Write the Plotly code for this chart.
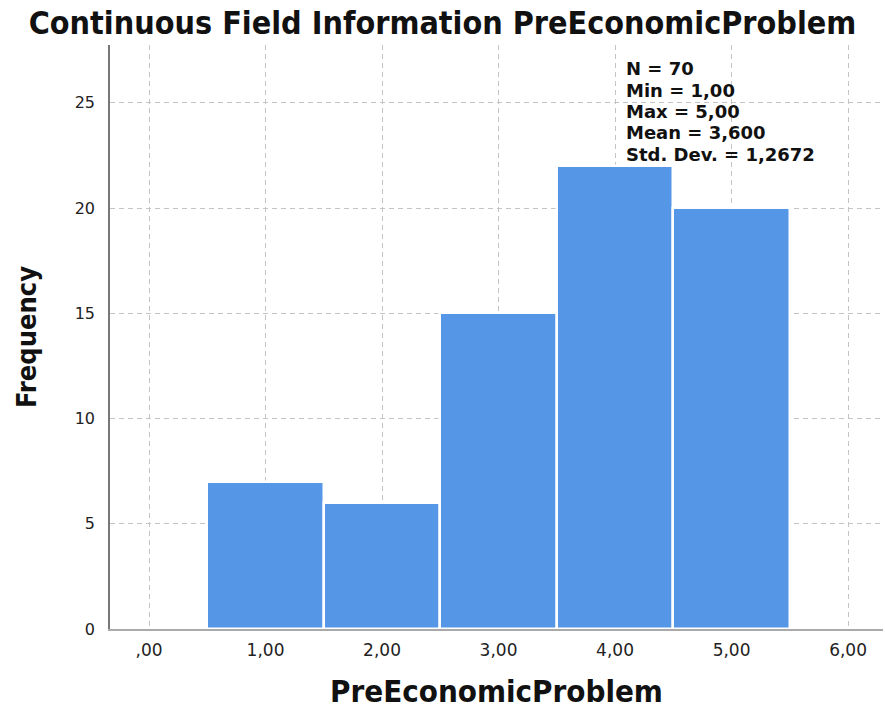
import plotly.graph_objects as go

categories = [1, 2, 3, 4, 5]
frequencies = [7, 6, 15, 22, 20]
x_tick_vals = [0, 1, 2, 3, 4, 5, 6]
x_tick_text = [",00", "1,00", "2,00", "3,00", "4,00", "5,00", "6,00"]
y_tick_vals = [0, 5, 10, 15, 20, 25]
stats_lines = ["N = 70", "Min = 1,00", "Max = 5,00", "Mean = 3,600", "Std. Dev. = 1,2672"]

L, R, T, B = 110, 883, 45, 629

fig = go.Figure()
fig.add_trace(go.Bar(
    x=categories, y=frequencies, width=1.0,
    marker=dict(color="#5596E6", line=dict(color="white", width=2.5)),
    showlegend=False,
))

grid = dict(showgrid=True, gridcolor="#c4c4c4", griddash="5px,4px", gridwidth=1, automargin=False)
narrow = "Liberation Sans Narrow, Arial Narrow, DejaVu Sans Condensed"
fig.update_xaxes(
    range=[-0.335, 6.3], tickvals=x_tick_vals, ticktext=x_tick_text,
    showline=True, linecolor="#aaaaaa", linewidth=1.5, zeroline=False,
    ticks="", ticklabelstandoff=5,
    tickfont=dict(family="DejaVu Sans", size=17, color="#222222"),
    title=dict(text="<b>PreEconomicProblem</b>", standoff=21,
               font=dict(family=narrow, size=31, color="#111111")),
    **grid,
)
fig.update_yaxes(
    range=[0, 27.75], tickvals=y_tick_vals,
    showline=True, linecolor="#777777", linewidth=1.5, zeroline=False,
    ticks="", ticklabelstandoff=10,
    tickfont=dict(family="DejaVu Sans", size=16, color="#222222"),
    title=dict(text="<b>Frequency</b>", standoff=30,
               font=dict(family=narrow, size=27, color="#111111")),
    **grid,
)

line_px = [69, 90, 112, 133, 154]
for txt, py in zip(stats_lines, line_px):
    fig.add_annotation(
        x=(624 - L) / (R - L), y=1 - (py - T) / (B - T), xref="paper", yref="paper",
        text="<b>%s</b>" % txt,
        showarrow=False, align="left", xanchor="left", yanchor="middle",
        font=dict(family="DejaVu Sans", size=18, color="#111111"),
    )

fig.update_layout(
    width=885, height=711,
    margin=dict(l=L, r=885 - R, t=T, b=711 - B, autoexpand=False),
    paper_bgcolor="white", plot_bgcolor="white",
    bargap=0,
    title=dict(text="<b>Continuous Field Information PreEconomicProblem</b>",
               x=0.5, xref="container", xanchor="center", y=1 - 23 / 711, yref="container", yanchor="middle",
               font=dict(family=narrow, size=32, color="#111111")),
)

fig.write_html("out.html", config={"displayModeBar": False},
               post_script="document.body.style.margin='0';document.body.style.overflow='hidden';")
